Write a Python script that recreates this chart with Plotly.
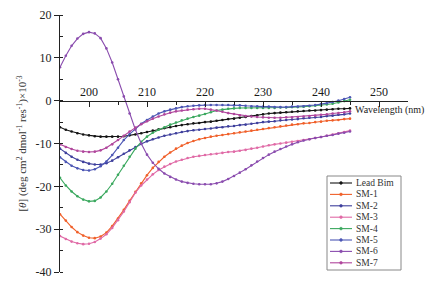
import plotly.graph_objects as go

wavelength = [195, 196, 197, 198, 199, 200, 201, 202, 203, 204,
              205, 206, 207, 208, 209, 210, 211, 212, 213, 214,
              215, 216, 217, 218, 219, 220, 221, 222, 223, 224,
              225, 226, 227, 228, 229, 230, 231, 232, 233, 234,
              235, 236, 237, 238, 239, 240, 241, 242, 243, 244,
              245]

lead_bim = [-6.2, -6.8, -7.2, -7.6, -7.9, -8.1, -8.3, -8.4, -8.4, -8.4,
            -8.4, -8.3, -8.1, -7.9, -7.6, -7.3, -7.0, -6.7, -6.4, -6.2,
            -5.9, -5.7, -5.5, -5.3, -5.2, -5.0, -4.9, -4.7, -4.5, -4.3,
            -4.2, -4.0, -3.8, -3.6, -3.4, -3.2, -3.0, -2.9, -2.8, -2.7,
            -2.6, -2.5, -2.4, -2.3, -2.3, -2.2, -2.1, -2.0, -1.9, -1.9,
            -1.8]

sm1 = [-26.5, -28.0, -29.5, -30.7, -31.5, -32.0, -32.1, -31.7, -30.8, -29.3,
       -27.5, -25.5, -23.4, -21.3, -19.3, -17.4, -15.7, -14.3, -13.1, -12.1,
       -11.2, -10.5, -9.9, -9.4, -9.0, -8.7, -8.4, -8.2, -8.0, -7.8,
       -7.6, -7.4, -7.2, -7.0, -6.8, -6.6, -6.4, -6.2, -6.0, -5.8,
       -5.6, -5.5, -5.3, -5.2, -5.0, -4.9, -4.7, -4.6, -4.5, -4.3,
       -4.2]

sm2 = [-11.2, -12.2, -13.1, -13.8, -14.3, -14.7, -14.9, -14.9, -14.6, -14.0,
       -13.2, -12.4, -11.6, -10.8, -10.1, -9.5, -9.0, -8.6, -8.2, -7.9,
       -7.6, -7.3, -7.1, -6.9, -6.8, -6.6, -6.5, -6.3, -6.2, -6.0,
       -5.9, -5.7, -5.6, -5.4, -5.2, -5.0, -4.9, -4.8, -4.6, -4.5,
       -4.4, -4.3, -4.1, -4.0, -3.9, -3.8, -3.6, -3.5, -3.3, -3.2,
       -3.0]

sm3 = [-31.6, -32.3, -32.9, -33.3, -33.5, -33.4, -33.0, -32.2, -31.2, -29.7,
       -27.9, -25.9, -23.7, -21.5, -19.8, -18.4, -17.2, -16.2, -15.4, -14.8,
       -14.2, -13.8, -13.4, -13.1, -12.9, -12.7, -12.5, -12.4, -12.2, -12.0,
       -11.9, -11.7, -11.5, -11.2, -11.0, -10.7, -10.4, -10.2, -10.0, -9.8,
       -9.6, -9.4, -9.2, -9.0, -8.7, -8.5, -8.2, -7.9, -7.6, -7.3,
       -7.0]

sm4 = [-18.0, -19.8, -21.2, -22.3, -23.1, -23.5, -23.4, -22.6, -21.2, -19.4,
       -17.3, -15.2, -13.1, -11.2, -9.6, -8.4, -7.5, -6.8, -6.2, -5.6,
       -5.1, -4.6, -4.2, -3.8, -3.5, -3.1, -2.7, -2.3, -2.1, -1.9,
       -1.8, -1.7, -1.7, -1.7, -1.7, -1.7, -1.7, -1.7, -1.6, -1.6,
       -1.5, -1.5, -1.4, -1.3, -1.2, -1.1, -0.9, -0.7, -0.4, -0.1,
       0.2]

sm5 = [-13.2, -14.3, -15.2, -15.8, -16.2, -16.3, -16.0, -15.3, -14.2, -12.7,
       -11.0, -9.2, -7.8, -6.5, -5.4, -4.5, -3.7, -3.0, -2.5, -2.1,
       -1.8, -1.5, -1.3, -1.2, -1.1, -1.0, -1.0, -1.0, -1.0, -1.0,
       -1.1, -1.1, -1.2, -1.3, -1.3, -1.4, -1.4, -1.5, -1.5, -1.5,
       -1.4, -1.4, -1.3, -1.2, -1.0, -0.8, -0.6, -0.3, 0.0, 0.4,
       0.8]

sm6 = [7.8, 10.5, 12.8, 14.5, 15.6, 16.0, 15.7, 14.6, 12.2, 8.9,
       5.0, 1.0, -3.0, -6.8, -10.0, -12.6, -14.5, -15.9, -17.0, -17.8,
       -18.4, -18.9, -19.2, -19.4, -19.5, -19.5, -19.5, -19.3, -18.9, -18.3,
       -17.6, -16.8, -16.0, -15.1, -14.2, -13.4, -12.6, -11.9, -11.3, -10.7,
       -10.2, -9.7, -9.3, -9.0, -8.7, -8.5, -8.2, -8.0, -7.7, -7.5,
       -7.2]

sm7 = [-10.2, -10.8, -11.3, -11.7, -11.9, -12.0, -11.9, -11.6, -11.0, -10.2,
       -9.2, -8.2, -7.2, -6.3, -5.5, -4.8, -4.2, -3.7, -3.2, -2.8,
       -2.5, -2.3, -2.1, -2.0, -1.9, -1.9, -2.1, -2.3, -2.6, -2.9,
       -3.1, -3.4, -3.6, -3.7, -3.8, -3.9, -4.0, -4.0, -4.0, -3.9,
       -3.9, -3.8, -3.7, -3.6, -3.5, -3.3, -3.2, -3.0, -2.9, -2.7,
       -2.5]

series_names = ["Lead Bim", "SM-1", "SM-2", "SM-3", "SM-4", "SM-5", "SM-6", "SM-7"]
series_values = [lead_bim, sm1, sm2, sm3, sm4, sm5, sm6, sm7]
series_colors = ["#141414", "#f0602a", "#3e3f9c", "#e06aa6", "#3aa85e",
                 "#4c56b4", "#8a4cae", "#b0469c"]

x_ticks = [200, 210, 220, 230, 240, 250]
x_minor = [195, 205, 215, 225, 235, 245, 255]
y_ticks = [20, 10, 0, -10, -20, -30, -40]
y_ticktext = ["20", "10", "0", "-10", "-20", "-30", "-40"]

SERIF = "Liberation Serif"
W, H = 427, 283
ML, MR, MT, MB = 60, 19, 15, 11
PW, PH = W - ML - MR, H - MT - MB


def px_x(px):
    return (px - ML) / PW


def px_y(py):
    return (H - MB - py) / PH


fig = go.Figure()
for name, vals, col in zip(series_names, series_values, series_colors):
    fig.add_trace(go.Scatter(
        x=wavelength, y=vals, name=name, mode="lines+markers",
        line=dict(color=col, width=1.1),
        marker=dict(color=col, size=2.6),
        showlegend=False,
    ))

# legend box drawn by hand (compact row spacing as in the reference)
shapes = [dict(type="rect", xref="paper", yref="paper",
               x0=px_x(327), x1=px_x(401), y0=px_y(270), y1=px_y(176),
               line=dict(color="#888", width=1), fillcolor="white", layer="above")]
annotations = []
for i, (name, col) in enumerate(zip(series_names, series_colors)):
    yy = px_y(183 + i * 11.4)
    shapes.append(dict(type="line", xref="paper", yref="paper",
                       x0=px_x(330), x1=px_x(352), y0=yy, y1=yy,
                       line=dict(color=col, width=1.1), layer="above"))
    shapes.append(dict(type="circle", xref="paper", yref="paper",
                       x0=px_x(339.6), x1=px_x(342.4), y0=yy - 1.4 / PH, y1=yy + 1.4 / PH,
                       line=dict(color=col, width=0.5), fillcolor=col, layer="above"))
    annotations.append(dict(x=px_x(354), y=yy, xref="paper", yref="paper",
                            xanchor="left", yanchor="middle", text=name, showarrow=False,
                            font=dict(family=SERIF, size=9.5, color="#333")))

annotations.append(dict(
    x=245.6, y=-0.3, xref="x", yref="y", xanchor="left", yanchor="top",
    text="Wavelength (nm)", showarrow=False,
    font=dict(family=SERIF, size=10, color="#222"),
))

fig.update_layout(
    width=W, height=H,
    margin=dict(l=ML, r=MR, t=MT, b=MB),
    paper_bgcolor="white", plot_bgcolor="white",
    font=dict(family=SERIF, size=12, color="#222"),
    showlegend=False,
    xaxis=dict(
        range=[195, 255], anchor="free", position=2/3, side="top",
        showline=True, linecolor="#222", linewidth=1.2,
        ticks="inside", ticklen=5, tickcolor="#222", tickwidth=1.2,
        tickvals=x_ticks, ticktext=[str(t) for t in x_ticks],
        minor=dict(tickvals=x_minor, ticks="inside", ticklen=3, tickcolor="#222"),
        showgrid=False, zeroline=False, automargin=False,
        tickfont=dict(family=SERIF, size=12, color="#1a1a1a"),
    ),
    yaxis=dict(
        range=[-40, 20], showline=True, linecolor="#222", linewidth=1.2,
        ticks="outside", ticklen=5, tickcolor="#222", tickwidth=1.2,
        tickvals=y_ticks, ticktext=y_ticktext,
        minor=dict(dtick=5, ticks="inside", ticklen=3, tickcolor="#222"),
        showgrid=False, zeroline=False, automargin=False,
        tickfont=dict(family=SERIF, size=12, color="#222"),
        title=dict(
            text="[<i>θ</i>] (deg cm<sup>2</sup> dmol<sup>-1</sup> res<sup>-1</sup>)×10<sup>-3</sup>",
            font=dict(family=SERIF, size=11, color="#333"), standoff=6,
        ),
    ),
    shapes=shapes,
    annotations=annotations,
)

fig.write_html("out.html")
